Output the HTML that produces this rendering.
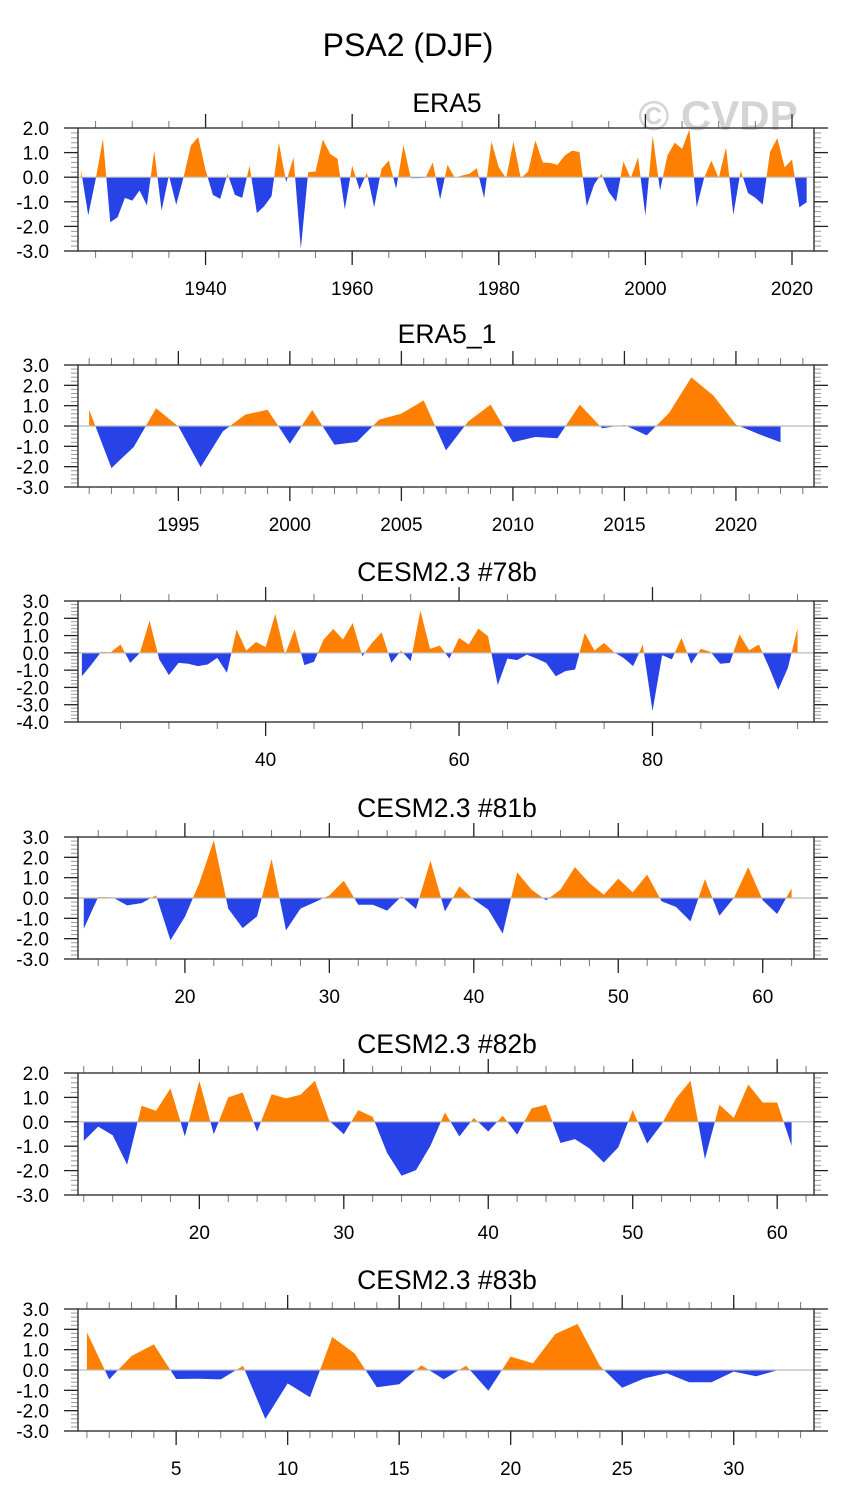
<!DOCTYPE html>
<html><head><meta charset="utf-8"><title>PSA2 (DJF)</title>
<style>
html,body{margin:0;padding:0;background:#fff;}
svg{display:block;font-family:"Liberation Sans",Arial,sans-serif;}
</style></head>
<body>
<svg id="chart" width="845" height="1506" viewBox="0 0 845 1506" xmlns="http://www.w3.org/2000/svg">
<text x="408" y="56" font-size="32" text-anchor="middle" fill="#000">PSA2 (DJF)</text>
<text x="718" y="130" font-size="42" font-weight="bold" text-anchor="middle" fill="#d4d4d4">© CVDP</text>
</svg>
<script>
// ---- Panel 1: ERA5 (1923-2022) ----
const p1Start = 1923;
const p1Values = [0.3,-1.55,-0.1,1.56,-1.83,-1.63,-0.84,-0.95,-0.54,-1.15,1.08,-1.36,0.07,-1.12,0.0,1.29,1.63,0.3,-0.72,-0.88,0.14,-0.72,-0.84,0.47,-1.46,-1.18,-0.77,1.4,-0.2,0.81,-2.91,0.2,0.23,1.53,0.95,0.75,-1.31,0.47,-0.5,0.18,-1.22,0.34,0.68,-0.47,1.31,-0.04,-0.04,-0.02,0.6,-0.9,0.5,-0.02,0.07,0.14,0.37,-0.85,1.45,0.4,-0.04,1.45,-0.04,0.23,1.49,0.6,0.58,0.5,0.88,1.08,1.02,-1.18,-0.3,0.14,-0.6,-1.0,0.64,-0.04,0.81,-1.56,1.69,-0.54,0.88,1.4,1.15,1.94,-1.22,-0.04,0.68,-0.04,1.22,-1.53,0.27,-0.64,-0.84,-1.11,1.02,1.59,0.4,0.72,-1.22,-1.02];
const p1XTicks = [1940,1960,1980,2000,2020];
const p1YTicks = [2.0,1.0,0.0,-1.0,-2.0,-3.0];
// ---- Panel 2: ERA5_1 (1991-2022) ----
const p2Start = 1991;
const p2Values = [0.8,-2.07,-1.03,0.87,-0.02,-2.02,-0.26,0.56,0.8,-0.87,0.79,-0.92,-0.79,0.31,0.61,1.26,-1.2,0.23,1.05,-0.8,-0.54,-0.6,1.05,-0.11,0.05,-0.46,0.64,2.39,1.49,0.07,-0.39,-0.8];
const p2XTicks = [1995,2000,2005,2010,2015,2020];
const p2YTicks = [3.0,2.0,1.0,0.0,-1.0,-2.0,-3.0];
// ---- Panel 3: CESM2.3 #78b (21-95) ----
const p3Start = 21;
const p3Values = [-1.35,-0.67,0.06,0.04,0.48,-0.58,0.0,1.87,-0.38,-1.29,-0.58,-0.63,-0.77,-0.67,-0.29,-1.15,1.35,0.13,0.63,0.33,2.25,-0.1,1.35,-0.71,-0.52,0.77,1.38,0.77,1.73,-0.19,0.58,1.19,-0.58,0.13,-0.48,2.44,0.23,0.42,-0.33,0.87,0.48,1.4,0.96,-1.87,-0.33,-0.42,-0.1,-0.33,-0.58,-1.35,-1.06,-0.96,1.15,0.13,0.58,0.04,-0.29,-0.77,0.48,-3.37,-0.13,-0.38,0.87,-0.63,0.23,0.06,-0.63,-0.58,1.06,0.15,0.48,-0.77,-2.15,-0.87,1.44];
const p3XTicks = [40,60,80];
const p3YTicks = [3.0,2.0,1.0,0.0,-1.0,-2.0,-3.0,-4.0];
// ---- Panel 4: CESM2.3 #81b (13-62) ----
const p4Start = 13;
const p4Values = [-1.51,0.05,0.03,-0.36,-0.25,0.13,-2.08,-0.93,0.74,2.84,-0.52,-1.48,-0.9,1.92,-1.59,-0.52,-0.2,0.13,0.85,-0.33,-0.33,-0.62,0.08,-0.54,1.84,-0.66,0.57,-0.08,-0.57,-1.75,1.26,0.41,-0.11,0.41,1.52,0.74,0.16,0.95,0.28,1.15,-0.16,-0.44,-1.15,0.93,-0.87,0.0,1.52,-0.11,-0.79,0.48];
const p4XTicks = [20,30,40,50,60];
const p4YTicks = [3.0,2.0,1.0,0.0,-1.0,-2.0,-3.0];
// ---- Panel 5: CESM2.3 #82b (12-61) ----
const p5Start = 12;
const p5Values = [-0.78,-0.2,-0.55,-1.76,0.66,0.45,1.37,-0.6,1.68,-0.51,1.0,1.2,-0.41,1.13,0.96,1.11,1.68,0.04,-0.51,0.48,0.2,-1.28,-2.21,-1.98,-0.98,0.38,-0.6,0.16,-0.4,0.25,-0.53,0.55,0.7,-0.87,-0.71,-1.09,-1.67,-1.05,0.48,-0.89,-0.1,0.96,1.68,-1.53,0.7,0.16,1.53,0.79,0.79,-0.98];
const p5XTicks = [20,30,40,50,60];
const p5YTicks = [2.0,1.0,0.0,-1.0,-2.0,-3.0];
// ---- Panel 6: CESM2.3 #83b (1-32) ----
const p6Start = 1;
const p6Values = [1.85,-0.46,0.69,1.26,-0.44,-0.43,-0.46,0.2,-2.41,-0.66,-1.34,1.62,0.82,-0.85,-0.7,0.23,-0.46,0.21,-1.02,0.66,0.33,1.77,2.26,0.2,-0.87,-0.41,-0.16,-0.6,-0.6,-0.08,-0.31,0.0];
const p6XTicks = [5,10,15,20,25,30];
const p6YTicks = [3.0,2.0,1.0,0.0,-1.0,-2.0,-3.0];

const NS = "http://www.w3.org/2000/svg";
const svg = document.getElementById('chart');
function mk(tag, attrs, parent){
  const e = document.createElementNS(NS, tag);
  for (const k in attrs) e.setAttribute(k, attrs[k]);
  (parent||svg).appendChild(e);
  return e;
}

function drawPanel(idx, cfg){
  const g = mk('g', {});
  
  
  const L = 78, R = 814, T = cfg.top, B = cfg.bottom;
  const xScale = v => L + (v - cfg.xmin) / (cfg.xmax - cfg.xmin) * (R - L);
  const yScale = v => B - (v - cfg.ymin) / (cfg.ymax - cfg.ymin) * (B - T);
  const y0 = yScale(0);

  const t = mk('text', {x: 447, y: T - cfg.titleGap, 'font-size': 26.5, 'text-anchor': 'middle', fill: '#000'}, g);
  t.textContent = cfg.title;
  
  

  const pts = cfg.values.map((v, i) => [xScale(cfg.start + i), yScale(v)]);
  let d = 'M' + pts[0][0].toFixed(2) + ',' + y0.toFixed(2);
  pts.forEach(p => { d += ' L' + p[0].toFixed(2) + ',' + p[1].toFixed(2); });
  d += ' L' + pts[pts.length - 1][0].toFixed(2) + ',' + y0.toFixed(2) + ' Z';

  const defs = mk('defs', {}, g);
  const cpA = mk('clipPath', {id: 'above' + idx}, defs);
  mk('rect', {x: 0, y: 0, width: 845, height: y0}, cpA);
  const cpB = mk('clipPath', {id: 'below' + idx}, defs);
  mk('rect', {x: 0, y: y0, width: 845, height: 1506 - y0}, cpB);

  const pos = mk('path', {d: d, fill: '#ff8000', 'clip-path': 'url(#above' + idx + ')'}, g);
  
  
  const neg = mk('path', {d: d, fill: '#2743e8', 'clip-path': 'url(#below' + idx + ')'}, g);
  
  

  const zl = mk('line', {x1: L, x2: R, y1: y0, y2: y0, stroke: '#bbbbbb', 'stroke-width': 1.2}, g);
  
  

  for (let v = Math.ceil(cfg.xmin / cfg.xminor) * cfg.xminor; v <= cfg.xmax; v += cfg.xminor) {
    const x = xScale(v);
    if (x < L || x > R) continue;
    mk('line', {x1: x, x2: x, y1: B, y2: B + 7, stroke: '#777', 'stroke-width': 1}, g);
    mk('line', {x1: x, x2: x, y1: T, y2: T - 7, stroke: '#777', 'stroke-width': 1}, g);
  }
  cfg.xticks.forEach(v => {
    const x = xScale(v);
    mk('line', {x1: x, x2: x, y1: B, y2: B + 14, stroke: '#222', 'stroke-width': 1.3}, g);
    mk('line', {x1: x, x2: x, y1: T, y2: T - 14, stroke: '#222', 'stroke-width': 1.3}, g);
    const lb = mk('text', {x: x, y: B + 44, 'font-size': 19, 'text-anchor': 'middle', fill: '#000'}, g);
    lb.textContent = String(v);
    
    
  });
  for (let v = cfg.ymin; v <= cfg.ymax + 1e-6; v += 0.2) {
    const y = yScale(v);
    mk('line', {x1: L, x2: L - 7, y1: y, y2: y, stroke: '#999', 'stroke-width': 1}, g);
    mk('line', {x1: R, x2: R + 7, y1: y, y2: y, stroke: '#999', 'stroke-width': 1}, g);
  }
  cfg.yticks.forEach(v => {
    const y = yScale(v);
    mk('line', {x1: L, x2: L - 14, y1: y, y2: y, stroke: '#222', 'stroke-width': 1.3}, g);
    mk('line', {x1: R, x2: R + 14, y1: y, y2: y, stroke: '#222', 'stroke-width': 1.3}, g);
    const lb = mk('text', {x: 49, y: y + 7, 'font-size': 19, 'text-anchor': 'end', fill: '#000'}, g);
    lb.textContent = v.toFixed(1);
    
    
  });
  const fr = mk('rect', {x: L, y: T, width: R - L, height: B - T, fill: 'none', stroke: '#333', 'stroke-width': 1.4}, g);
  
  
}

drawPanel(1, {slug:'era5', title:'ERA5', titleGap:16, top:128, bottom:251, start:p1Start, values:p1Values, xmin:1922.6, xmax:2023.0, xticks:p1XTicks, xminor:5, ymin:-3, ymax:2, yticks:p1YTicks});
drawPanel(2, {slug:'era5-1', title:'ERA5_1', titleGap:22, top:365, bottom:487, start:p2Start, values:p2Values, xmin:1990.5, xmax:2023.5, xticks:p2XTicks, xminor:1, ymin:-3, ymax:3, yticks:p2YTicks});
drawPanel(3, {slug:'cesm-78b', title:'CESM2.3 #78b', titleGap:20, top:601, bottom:722, start:p3Start, values:p3Values, xmin:20.6, xmax:96.7, xticks:p3XTicks, xminor:5, ymin:-4, ymax:3, yticks:p3YTicks});
drawPanel(4, {slug:'cesm-81b', title:'CESM2.3 #81b', titleGap:20, top:837, bottom:959, start:p4Start, values:p4Values, xmin:12.6, xmax:63.55, xticks:p4XTicks, xminor:2, ymin:-3, ymax:3, yticks:p4YTicks});
drawPanel(5, {slug:'cesm-82b', title:'CESM2.3 #82b', titleGap:20, top:1073, bottom:1195, start:p5Start, values:p5Values, xmin:11.6, xmax:62.55, xticks:p5XTicks, xminor:2, ymin:-3, ymax:2, yticks:p5YTicks});
drawPanel(6, {slug:'cesm-83b', title:'CESM2.3 #83b', titleGap:20, top:1309, bottom:1431, start:p6Start, values:p6Values, xmin:0.6, xmax:33.6, xticks:p6XTicks, xminor:1, ymin:-3, ymax:3, yticks:p6YTicks});
</script>
</body></html>
